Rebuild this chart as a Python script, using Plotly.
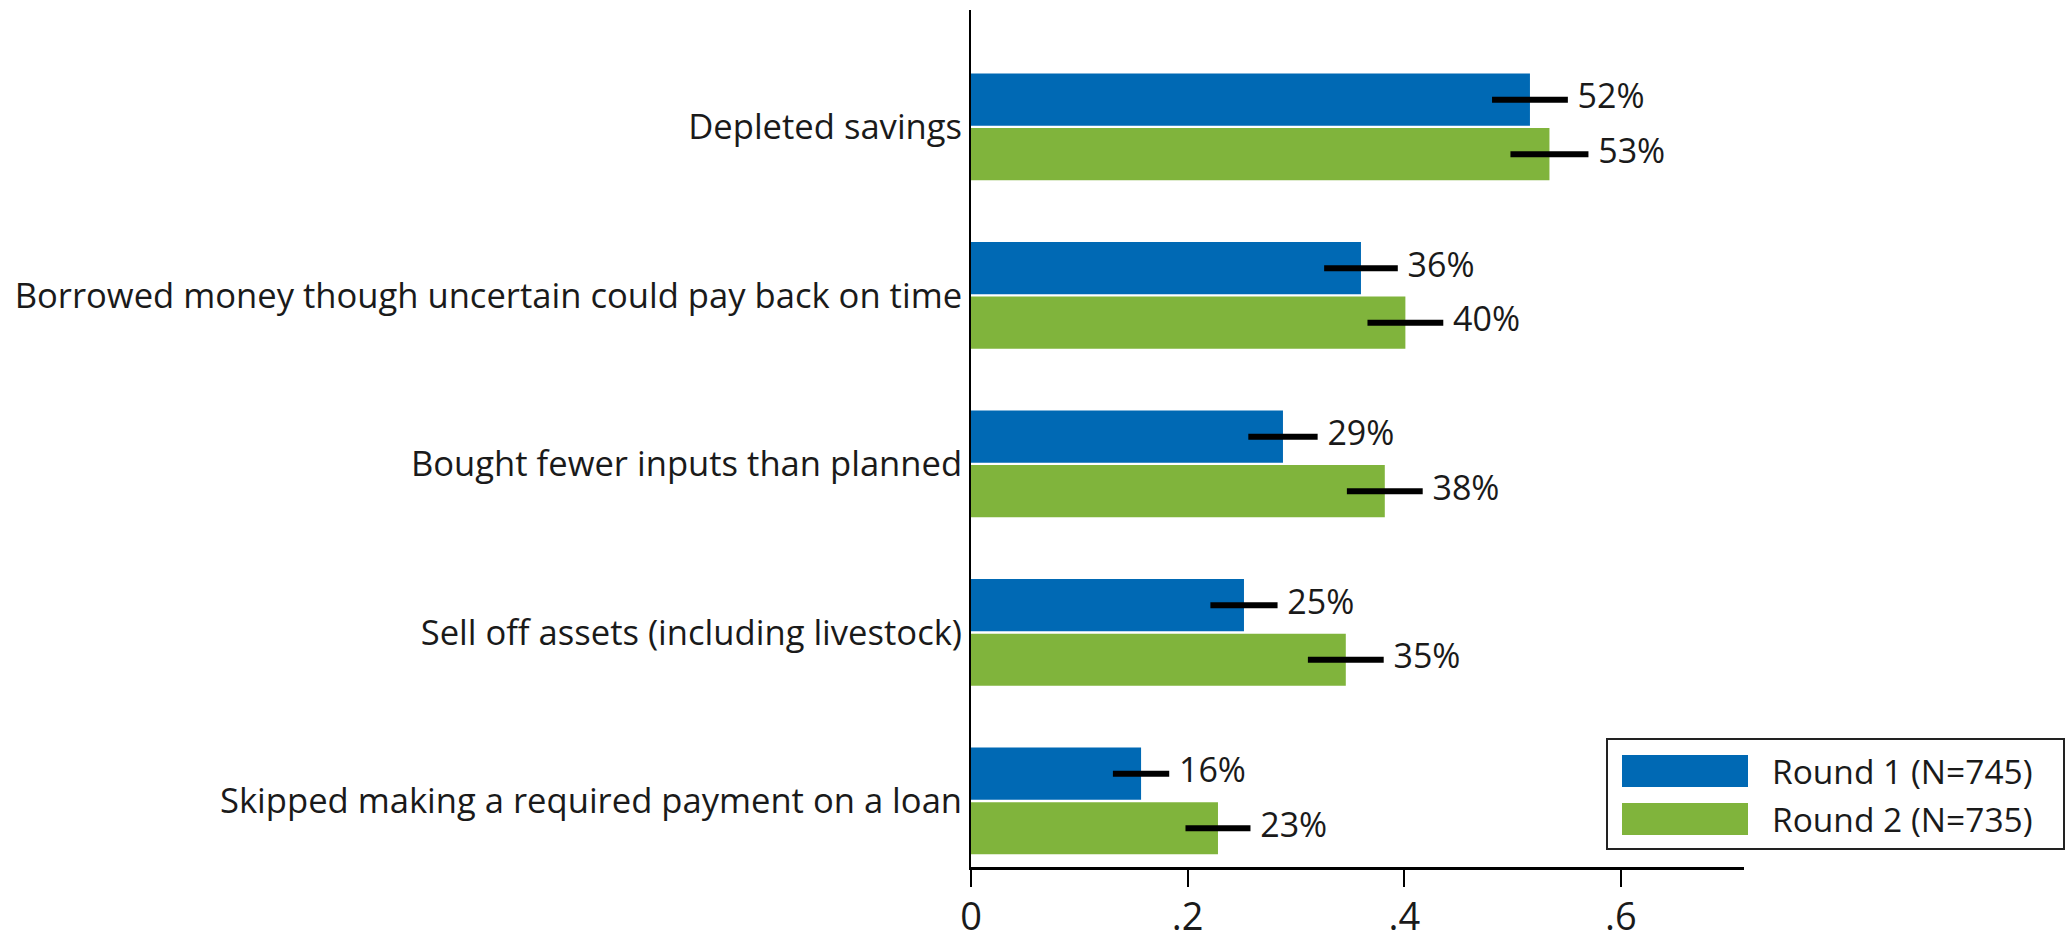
import plotly.graph_objects as go

# Survey results: share of households that used each coping strategy
categories = [
    "Depleted savings",
    "Borrowed money though uncertain could pay back on time",
    "Bought fewer inputs than planned",
    "Sell off assets (including livestock)",
    "Skipped making a required payment on a loan",
]
series_names = ["Round 1 (N=745)", "Round 2 (N=735)"]
round1 = [0.516, 0.360, 0.288, 0.252, 0.157]
round2 = [0.534, 0.401, 0.382, 0.346, 0.228]
# half-width of the 95% confidence interval
round1_ci = [0.035, 0.034, 0.032, 0.031, 0.026]
round2_ci = [0.036, 0.035, 0.035, 0.035, 0.030]
x_ticks = [0, 0.2, 0.4, 0.6]
x_tick_labels = ["0", ".2", ".4", ".6"]

colors = ["#0069b4", "#80b43c"]
FONT = "Open Sans"
TEXT = "#1a1a1a"

n = len(categories)
ypos = [n - 1 - i for i in range(n)]  # first category at the top
bar_w = 0.31
offset = 0.162

W, H = 2066, 945
L, R, T, B = 971, 322, 10, 78

fig = go.Figure()
for k, (vals, ci, sign) in enumerate([(round1, round1_ci, 1), (round2, round2_ci, -1)]):
    yy = [p + sign * offset for p in ypos]
    fig.add_trace(go.Bar(
        x=vals, y=yy, orientation="h", width=bar_w,
        marker=dict(color=colors[k], line=dict(width=0)),
        error_x=dict(type="data", array=ci, color="black", thickness=6, width=0),
        name=series_names[k], showlegend=False,
    ))
    fig.add_trace(go.Scatter(
        x=[v + c + 0.009 for v, c in zip(vals, ci)], y=yy, mode="text",
        text=[f"{round(v * 100):d}%" for v in vals],
        textposition="middle right",
        textfont=dict(family=FONT, size=34, color=TEXT),
        showlegend=False, hoverinfo="skip", cliponaxis=False,
    ))

fig.update_layout(
    width=W, height=H,
    margin=dict(l=L, r=R, t=T, b=B, pad=0),
    paper_bgcolor="white", plot_bgcolor="white",
    barmode="overlay",
    showlegend=False,
    font=dict(family=FONT, color=TEXT),
)
fig.update_xaxes(
    range=[0, 0.7136], tickvals=x_ticks, ticktext=x_tick_labels,
    ticks="outside", ticklen=17, tickwidth=2, tickcolor="black",
    showline=True, linecolor="black", linewidth=3,
    showgrid=False, zeroline=False, automargin=False, ticklabelstandoff=-3,
    tickfont=dict(family=FONT, size=38, color=TEXT),
)
fig.update_yaxes(
    range=[-0.392, 4.694], tickvals=ypos, ticktext=categories,
    ticks="", showline=True, linecolor="black", linewidth=2,
    showgrid=False, zeroline=False, automargin=False,
    tickfont=dict(family=FONT, size=34.6, color=TEXT),
)

# Legend box with wide colour keys
pw, ph = W - L - R, H - T - B
def px(x):
    return (x - L) / pw
def py(y):
    return (H - B - y) / ph

fig.add_shape(type="rect", xref="paper", yref="paper",
              x0=px(1607), x1=px(2064), y0=py(849), y1=py(739),
              line=dict(color="#222", width=2), fillcolor="white", layer="above")
for k, (ytop, ybot) in enumerate([(755, 787), (803, 835)]):
    fig.add_shape(type="rect", xref="paper", yref="paper",
                  x0=px(1622), x1=px(1748), y0=py(ybot), y1=py(ytop),
                  line=dict(width=0), fillcolor=colors[k], layer="above")
    fig.add_annotation(xref="paper", yref="paper", x=px(1770), y=py((ytop + ybot) / 2),
                       text=series_names[k], showarrow=False, xanchor="left", yanchor="middle",
                       font=dict(family=FONT, size=33.5, color=TEXT))

fig.write_html("out.html")
